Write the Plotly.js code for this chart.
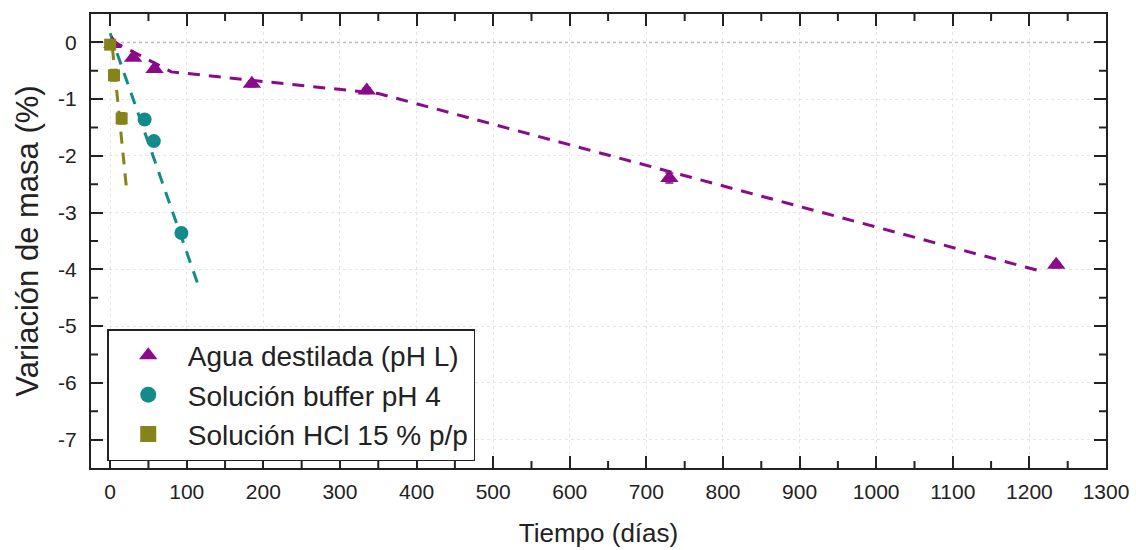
<!DOCTYPE html>
<html><head><meta charset="utf-8">
<script src="https://cdn.plot.ly/plotly-3.0.1.min.js"></script>
<style>body{margin:0;background:#fff}#c{width:1136px;height:550px}</style>
</head><body><div id="c"></div>
<script>
const aguaX = [3, 30, 58, 185, 335, 730, 1235];
const aguaY = [-0.03, -0.27, -0.47, -0.73, -0.85, -2.39, -3.92];
const aguaErr = [0.03, 0.04, 0.05, 0.05, 0.05, 0.09, 0.05];
const aguaFitX = [2, 80, 350, 1220];
const aguaFitY = [0.03, -0.52, -0.9, -4.05];

const bufX = [45, 57, 93];
const bufY = [-1.36, -1.74, -3.36];
const bufErr = [0.06, 0.08, 0.05];
const bufFitX = [0, 114];
const bufFitY = [0.16, -4.24];

const hclX = [0, 5, 15];
const hclY = [-0.04, -0.58, -1.34];
const hclErr = [0.05, 0.1, 0.1];
const hclFitX = [3, 21];
const hclFitY = [-0.1, -2.53];

const xTicks = [0,100,200,300,400,500,600,700,800,900,1000,1100,1200,1300];
const yTicks = [0,-1,-2,-3,-4,-5,-6,-7];
const yTickText = ['0','-1','-2','-3','-4','-5','-6','-7'];
const xMinor = [50,150,250,350,450,550,650,750,850,950,1050,1150,1250];
const yMinor = [-0.5,-1.5,-2.5,-3.5,-4.5,-5.5,-6.5];

const purple = '#8a0a8a', teal = '#138b8b', olive = '#84841a';
const FONT = 'Liberation Sans, Arial, sans-serif';
const XR = [-25, 1300], YR = [-7.5, 0.5];

const traces = [
  {x: XR, y: [0, 0], mode:'lines', line:{color:'#bdbdbd', width:1.5, dash:'dot'}, showlegend:false, hoverinfo:'skip'},
  {x: aguaFitX, y: aguaFitY, mode:'lines', line:{color:purple, dash:'12px,9px', width:3}, showlegend:false, hoverinfo:'skip'},
  {x: bufFitX, y: bufFitY, mode:'lines', line:{color:teal, dash:'12px,9px', width:3}, showlegend:false, hoverinfo:'skip'},
  {x: hclFitX, y: hclFitY, mode:'lines', line:{color:olive, dash:'12px,9px', width:3}, showlegend:false, hoverinfo:'skip'},
  {x: aguaX, y: aguaY, mode:'markers', name:'Agua destilada (pH L)', showlegend:false, marker:{symbol:'triangle-up', size:16, color:purple},
   error_y:{type:'data', array:aguaErr, color:purple, thickness:1.5, width:4}},
  {x: bufX, y: bufY, mode:'markers', name:'Solución buffer pH 4', showlegend:false, marker:{symbol:'circle', size:14, color:teal},
   error_y:{type:'data', array:bufErr, color:teal, thickness:1.5, width:4}},
  {x: hclX, y: hclY, mode:'markers', name:'Solución HCl 15 % p/p', showlegend:false, marker:{symbol:'square', size:12, color:olive},
   error_y:{type:'data', array:hclErr, color:olive, thickness:1.5, width:4}},
  {x:[null], y:[null], mode:'markers', name:'Agua destilada (pH L)', marker:{symbol:'triangle-up', size:24, color:purple}},
  {x:[null], y:[null], mode:'markers', name:'Solución buffer pH 4', marker:{symbol:'circle', size:20, color:teal}},
  {x:[null], y:[null], mode:'markers', name:'Solución HCl 15 % p/p', marker:{symbol:'square', size:18, color:olive}}
];

const axisCommon = {
  showline:true, linecolor:'#222', linewidth:2, mirror:'ticks',
  ticks:'inside', ticklen:12, tickwidth:2, tickcolor:'#222',
  showgrid:true, gridcolor:'#e6e6e6', griddash:'dot', gridwidth:1,
  zeroline:false, tickmode:'array',
  tickfont:{family:FONT, size:21, color:'#222'}
};

// minor inside tick marks on all four sides (7 px long)
const PH = 550 - 14 - 82, PW = 1136 - 91 - 30;
const dyMinor = 7 * (YR[1] - YR[0]) / PH;
const dxMinor = 7 * (XR[1] - XR[0]) / PW;
const shapes = [];
xMinor.forEach(v => {
  shapes.push({type:'line', xref:'x', yref:'y', x0:v, x1:v, y0:YR[0], y1:YR[0] + dyMinor, line:{color:'#222', width:2}});
  shapes.push({type:'line', xref:'x', yref:'y', x0:v, x1:v, y0:YR[1], y1:YR[1] - dyMinor, line:{color:'#222', width:2}});
});
yMinor.forEach(v => {
  shapes.push({type:'line', xref:'x', yref:'y', y0:v, y1:v, x0:XR[0], x1:XR[0] + dxMinor, line:{color:'#222', width:2}});
  shapes.push({type:'line', xref:'x', yref:'y', y0:v, y1:v, x0:XR[1], x1:XR[1] - dxMinor, line:{color:'#222', width:2}});
});

const layout = {
  width:1136, height:550,
  margin:{l:91, r:30, t:14, b:82},
  paper_bgcolor:'#fff', plot_bgcolor:'#fff',
  font:{family:FONT, color:'#222'},
  xaxis: Object.assign({}, axisCommon, {
    range:XR, tickvals:xTicks, ticklabelstandoff:4,
    title:{text:'Tiempo (días)', font:{size:26, color:'#222'}, standoff:22}
  }),
  yaxis: Object.assign({}, axisCommon, {
    range:YR, tickvals:yTicks, ticktext:yTickText, ticklabelstandoff:8,
    title:{text:'Variación de masa (%)', font:{size:31, color:'#222'}, standoff:10}
  }),
  shapes: shapes,
  legend:{x:0.016, y:0.306, xanchor:'left', yanchor:'top', bgcolor:'#fff', bordercolor:'#222', borderwidth:1.5,
    font:{family:FONT, size:28, color:'#222'}, itemsizing:'trace', itemwidth:69, tracegroupgap:0},
  showlegend:true
};

Plotly.newPlot('c', traces, layout, {staticPlot:true, displayModeBar:false});
</script></body></html>
